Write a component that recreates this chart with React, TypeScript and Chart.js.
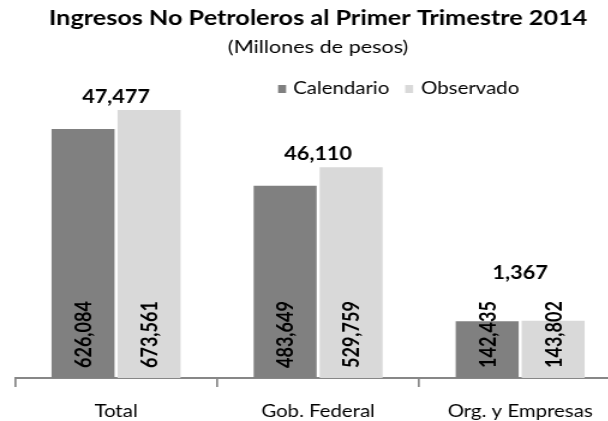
import React, { useEffect, useRef } from 'react';
import { Chart, registerables } from 'chart.js';

Chart.register(...registerables);

const categories = ['Total', 'Gob. Federal', 'Org. y Empresas'];
const seriesNames = ['Calendario', 'Observado'];
const calendario = [626084, 483649, 142435];
const observado = [673561, 529759, 143802];
const diferencias = [47477, 46110, 1367];
const titleText = 'Ingresos No Petroleros al Primer Trimestre 2014';
const subtitleText = '(Millones de pesos)';

const DARK = '#808080';
const LIGHT = '#d9d9d9';
const AXIS = '#878787';
const FONT = 'Lato';

// the original picture is horizontally stretched; render narrow and stretch with CSS
const CSS_W = 635;
const CSS_H = 421;
const STRETCH = 1.2;
const CANVAS_W = Math.round(CSS_W / STRETCH);
const sx = (px: number) => px / STRETCH;

const fmt = (v: number) => v.toLocaleString('en-US');

const labelsPlugin = {
  id: 'customLabels',
  afterDatasetsDraw(chart: any) {
    const ctx = chart.ctx as CanvasRenderingContext2D;
    ctx.save();
    ctx.fillStyle = '#000';
    ctx.font = `bold 18px ${FONT}`;
    const tops: number[] = categories.map(() => Infinity);
    chart.data.datasets.forEach((ds: any, di: number) => {
      const meta = chart.getDatasetMeta(di);
      meta.data.forEach((bar: any, i: number) => {
        const p = bar.getProps(['x', 'y', 'base'], true);
        const text = fmt(ds.data[i]);
        const w = ctx.measureText(text).width;
        const bottom = p.base - 10;
        ctx.save();
        ctx.translate(p.x, bottom);
        ctx.rotate(-Math.PI / 2);
        ctx.textAlign = 'left';
        ctx.textBaseline = 'middle';
        ctx.fillText(text, 0, 1);
        ctx.restore();
        tops[i] = Math.min(tops[i], p.y, bottom - w - 15);
      });
    });
    ctx.font = `bold 18px ${FONT}`;
    ctx.textAlign = 'center';
    ctx.textBaseline = 'middle';
    const xs = chart.scales.x;
    diferencias.forEach((d, i) => {
      ctx.fillText(fmt(d), xs.getPixelForValue(i), tops[i] - 13);
    });

    // legend
    ctx.font = `17px ${FONT}`;
    ctx.textAlign = 'left';
    const legendY = 88;
    const items = [
      { x: sx(278), tx: sx(293), color: DARK, text: seriesNames[0] },
      { x: sx(405), tx: sx(421), color: LIGHT, text: seriesNames[1] },
    ];
    items.forEach((it) => {
      ctx.fillStyle = it.color;
      ctx.fillRect(it.x, legendY - 3, sx(8), 8);
      ctx.fillStyle = '#000';
      ctx.fillText(it.text, it.tx, legendY + 1);
    });
    ctx.restore();
  },
};

export default function App() {
  const ref = useRef<HTMLCanvasElement>(null);
  useEffect(() => {
    if (!ref.current) return;
    Chart.defaults.font.family = FONT;
    const chart = new Chart(ref.current, {
      type: 'bar',
      data: {
        labels: categories,
        datasets: [
          {
            label: seriesNames[0],
            data: calendario,
            backgroundColor: DARK,
            borderWidth: 0,
            barPercentage: 0.955,
            categoryPercentage: 0.653,
          },
          {
            label: seriesNames[1],
            data: observado,
            backgroundColor: LIGHT,
            borderWidth: 0,
            barPercentage: 0.955,
            categoryPercentage: 0.653,
          },
        ],
      },
      options: {
        responsive: false,
        animation: false,
        devicePixelRatio: 1,
        layout: { padding: { left: sx(15), right: CANVAS_W - sx(621), top: 0, bottom: 0 } },
        plugins: {
          legend: { display: false },
          tooltip: { enabled: false },
          title: {
            display: true,
            text: titleText,
            color: '#000',
            font: { size: 21, weight: 'bold', family: FONT },
            padding: { top: 6, bottom: 4 },
          },
          subtitle: {
            display: true,
            text: subtitleText,
            color: '#000',
            font: { size: 18, family: FONT },
            padding: { top: 1, bottom: 2 },
          },
        },
        scales: {
          x: {
            afterFit: (scale: any) => {
              scale.height = 43;
            },
            grid: {
              display: true,
              drawOnChartArea: false,
              drawTicks: true,
              tickLength: 9,
              color: AXIS,
              lineWidth: 1.7,
              offset: true,
            },
            border: { display: true, color: AXIS, width: 2 },
            ticks: {
              color: '#000',
              font: { size: 17, family: FONT },
              padding: 14,
              maxRotation: 0,
              autoSkip: false,
            },
          },
          y: { display: false, min: 0, max: 800000 },
        },
      },
      plugins: [labelsPlugin],
    } as any);
    return () => chart.destroy();
  }, []);
  return (
    <div
      style={{
        position: 'absolute',
        left: 0,
        top: 0,
        width: 608,
        height: 421,
        overflow: 'hidden',
        background: '#fff',
      }}
    >
      <canvas
        ref={ref}
        width={CANVAS_W}
        height={CSS_H}
        style={{ display: 'block', width: `${CSS_W}px`, height: `${CSS_H}px` }}
      />
    </div>
  );
}
